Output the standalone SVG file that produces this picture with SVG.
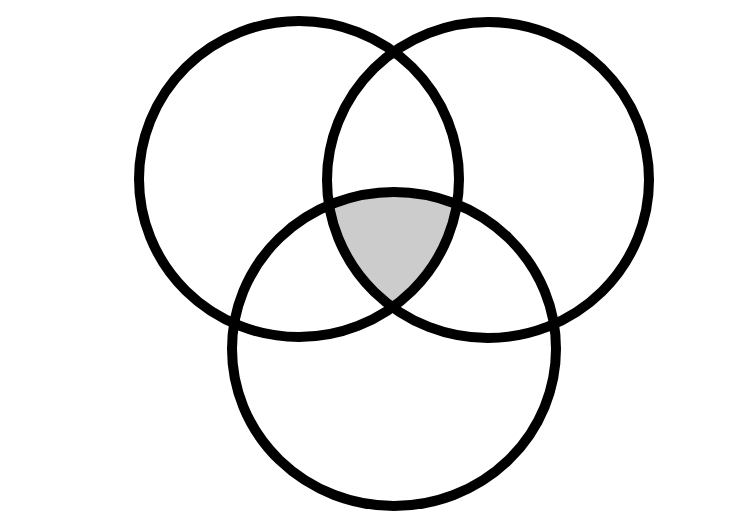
<svg xmlns="http://www.w3.org/2000/svg" width="750" height="531" viewBox="0 0 750 531">
<style>
.c{fill:none;stroke:#000;stroke-width:10}
</style>
<defs>
<clipPath id="cl"><ellipse cx="299" cy="179" rx="160" ry="158"/></clipPath>
<clipPath id="cr"><ellipse cx="488" cy="180" rx="161" ry="158"/></clipPath>
</defs>
<rect width="750" height="531" fill="#fff"/>
<g id="shade" clip-path="url(#cl)"><g clip-path="url(#cr)"><ellipse cx="394" cy="349" rx="162" ry="157" fill="#cccccc"/></g></g>
<g id="left"><ellipse class="c" cx="299" cy="179" rx="160" ry="158"/></g>
<g id="right"><ellipse class="c" cx="488" cy="180" rx="161" ry="158"/></g>
<g id="bottom"><ellipse class="c" cx="394" cy="349" rx="162" ry="157"/></g>
</svg>
